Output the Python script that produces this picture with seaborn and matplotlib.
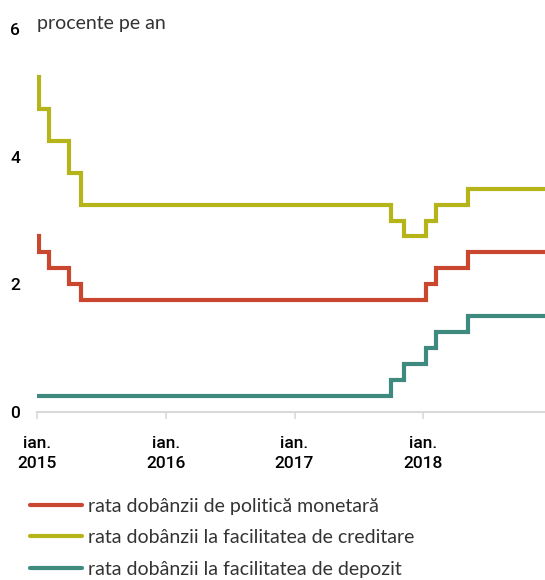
import matplotlib
matplotlib.use("Agg")
import matplotlib.pyplot as plt
import seaborn as sns
import pandas as pd
from matplotlib.lines import Line2D

# ---- data (rate change dates and new levels, % per year) ----
end_date = "2018-12-31"

policy_dates = ["2015-01-01", "2015-01-07", "2015-02-05", "2015-04-01", "2015-05-07",
                "2018-01-08", "2018-02-07", "2018-05-08"]
policy_vals = [2.75, 2.50, 2.25, 2.00, 1.75, 2.00, 2.25, 2.50]

lending_dates = ["2015-01-01", "2015-01-07", "2015-02-05", "2015-04-01", "2015-05-07",
                 "2017-10-03", "2017-11-07", "2018-01-08", "2018-02-07", "2018-05-08"]
lending_vals = [5.25, 4.75, 4.25, 3.75, 3.25, 3.00, 2.75, 3.00, 3.25, 3.50]

deposit_dates = ["2015-01-01", "2017-10-03", "2017-11-07", "2018-01-08", "2018-02-07",
                 "2018-05-08"]
deposit_vals = [0.25, 0.50, 0.75, 1.00, 1.25, 1.50]

series_names = ["rata dobânzii de politică monetară",
                "rata dobânzii la facilitatea de creditare",
                "rata dobânzii la facilitatea de depozit"]
series_colors = ["#C9472F", "#B5B51A", "#3F8A7F"]

year_ticks = ["2015-01-01", "2016-01-01", "2017-01-01", "2018-01-01"]
year_labels = ["ian.\n2015", "ian.\n2016", "ian.\n2017", "ian.\n2018"]
y_ticks = [0, 2, 4, 6]

# ---- build long table ----
frames = []
for name, d, v in zip(series_names,
                      [policy_dates, lending_dates, deposit_dates],
                      [policy_vals, lending_vals, deposit_vals]):
    dd = list(d) + [end_date]
    vv = list(v) + [v[-1]]
    frames.append(pd.DataFrame({"date": pd.to_datetime(dd), "val": vv, "serie": name}))
df = pd.concat(frames, ignore_index=True)

sns.set_theme(style="white")
plt.rcParams['font.family'] = ['Lato', 'DejaVu Sans']

fig = plt.figure(figsize=(5.45, 5.8), dpi=100)
ax = fig.add_axes([37 / 545, (580 - 412) / 580, 1 - 37 / 545, (412 - 29) / 580])

for name, col in zip(series_names, series_colors):
    sub = df[df["serie"] == name]
    sns.lineplot(data=sub, x="date", y="val", ax=ax, color=col, linewidth=3.0,
                 drawstyle="steps-post", legend=False, solid_joinstyle="miter")

ax.set_xlim(pd.Timestamp("2015-01-01"), pd.Timestamp("2018-12-13"))
ax.set_ylim(0, 6)
ax.set_xlabel("")
ax.set_ylabel("")

tick_family = ['Roboto', 'DejaVu Sans']
ax.set_xticks(pd.to_datetime(year_ticks))
ax.set_xticklabels(year_labels)
ax.set_yticks(y_ticks)
ax.set_yticklabels([str(t) for t in y_ticks])

for s in ["top", "right", "left"]:
    ax.spines[s].set_visible(False)
ax.spines["bottom"].set_color("#d9d9d9")
ax.spines["bottom"].set_linewidth(1.5)
ax.spines["bottom"].set_position(("data", 0))
ax.tick_params(axis="x", direction="out", length=5, width=1.2, color="#d9d9d9",
               pad=12, labelcolor="black", bottom=True)
ax.tick_params(axis="y", length=0, pad=12, labelcolor="black", left=False)
ax.grid(False)

for lab in ax.get_xticklabels():
    lab.set_fontsize(12.5)
    lab.set_fontweight("medium")
    lab.set_family(tick_family)
    lab.set_linespacing(1.45)
for lab in ax.get_yticklabels():
    lab.set_fontsize(12.5)
    lab.set_fontweight("medium")
    lab.set_family(tick_family)

fig.text(37 / 545, 1 - 23 / 580, "procente pe an", fontsize=14, color="#333333",
         va="center", ha="left")

handles = [Line2D([0], [0], color=c, linewidth=3.0) for c in series_colors]
fig.legend(handles, series_names, loc="upper left",
           bbox_to_anchor=(24 / 545, 1 - 492 / 580), frameon=False,
           fontsize=14, handlelength=2.68, handletextpad=0.31, labelspacing=0.74,
           labelcolor="#333333", borderaxespad=0, borderpad=0.3)

fig.savefig("out.png", dpi=100)
